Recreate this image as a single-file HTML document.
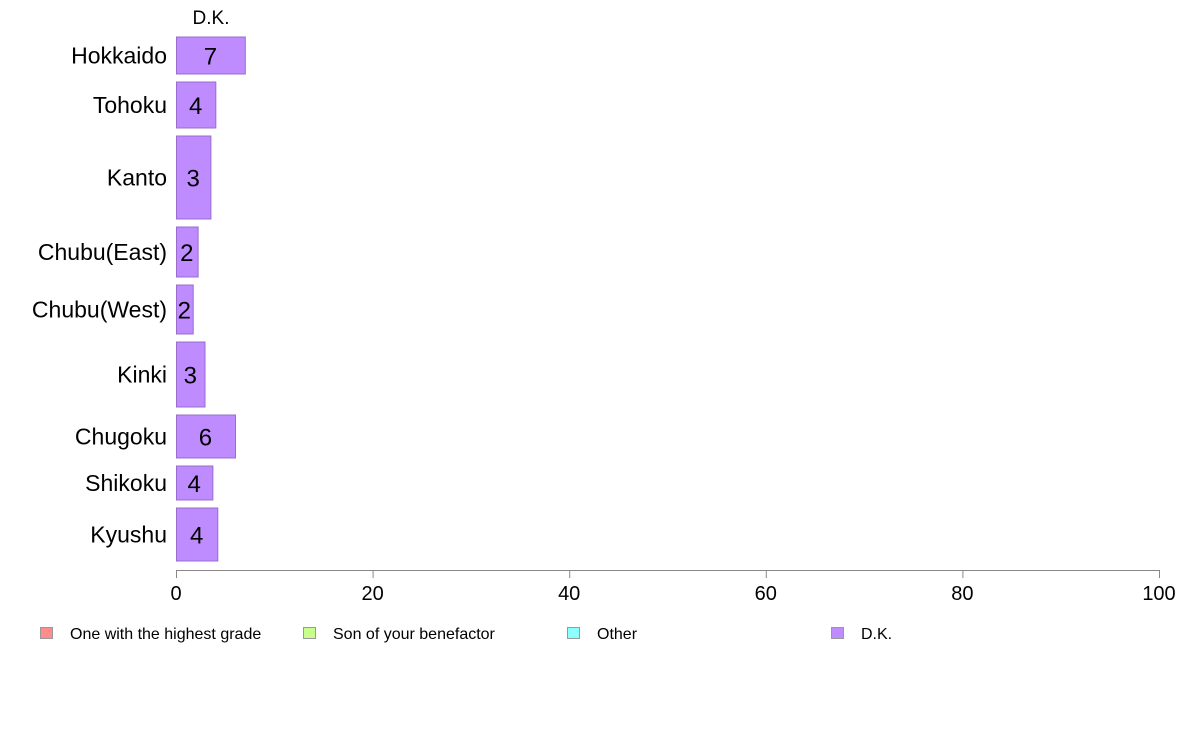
<!DOCTYPE html>
<html><head><meta charset="utf-8"><style>
body{margin:0;background:#fff;font-family:"Liberation Sans",Arial,sans-serif}
svg text{font-family:"Liberation Sans",Arial,sans-serif}
</style></head><body>
<svg id="chart" width="1188" height="736" xmlns="http://www.w3.org/2000/svg"></svg>
<script>
const categories=["Hokkaido","Tohoku","Kanto","Chubu(East)","Chubu(West)","Kinki","Chugoku","Shikoku","Kyushu"];
const values=[7.0,4.0,3.5,2.2,1.7,2.9,6.0,3.7,4.2];
const valueLabels=["7","4","3","2","2","3","6","4","4"];
const sampleSizes=[37,46,83,50,49,65,43,34,53];
const xTicks=[0,20,40,60,80,100];
const legendItems=["One with the highest grade","Son of your benefactor","Other","D.K."];
const legendColors=["#ff8c8c","#c8ff8c","#8cffff","#bf8cff"];
const legendX=[40,303,567,831];

const svg=document.getElementById('chart');
const NS="http://www.w3.org/2000/svg";
const x0=176,x1=1159,yTop=37,gap=8;
const xs=v=>x0+(v/100)*(x1-x0);
function mk(t,a){const e=document.createElementNS(NS,t);for(const k in a)e.setAttribute(k,a[k]);svg.appendChild(e);return e;}

const ht=mk('text',{x:211,y:24,'font-size':19,'text-anchor':'middle',fill:'#000'});


ht.textContent="D.K.";

let y=yTop;
categories.forEach((c,i)=>{
  const h=sampleSizes[i];
  const r=mk('rect',{x:x0+0.5,y:y,width:xs(values[i])-x0,height:h,fill:'#bf8cff',stroke:'#9a6ccc','stroke-width':1});
  
  
  const cy=y+h/2;
  const l=mk('text',{x:167,y:cy+8,'font-size':23,'text-anchor':'end',fill:'#000'});
  
  
  l.textContent=c;
  const v=mk('text',{x:(x0+xs(values[i]))/2,y:cy+9,'font-size':24,'text-anchor':'middle',fill:'#000'});
  
  
  v.textContent=valueLabels[i];
  y+=h+gap;
});

const ax=mk('line',{x1:x0,y1:570.5,x2:x1,y2:570.5,stroke:'#888','stroke-width':1});


xTicks.forEach(t=>{
  const tk=mk('line',{x1:xs(t)+0.5,y1:570,x2:xs(t)+0.5,y2:578,stroke:'#888','stroke-width':1});
  
  
  const tl=mk('text',{x:xs(t),y:600,'font-size':20,'text-anchor':'middle',fill:'#000'});
  
  
  tl.textContent=t;
});

legendItems.forEach((n,i)=>{
  const s=mk('rect',{x:legendX[i]+0.5,y:627.5,width:12,height:11,fill:legendColors[i],stroke:'#999','stroke-width':1});
  
  
  const t=mk('text',{x:legendX[i]+30,y:639,'font-size':16,fill:'#000'});
  
  
  t.textContent=n;
});
</script>
</body></html>
